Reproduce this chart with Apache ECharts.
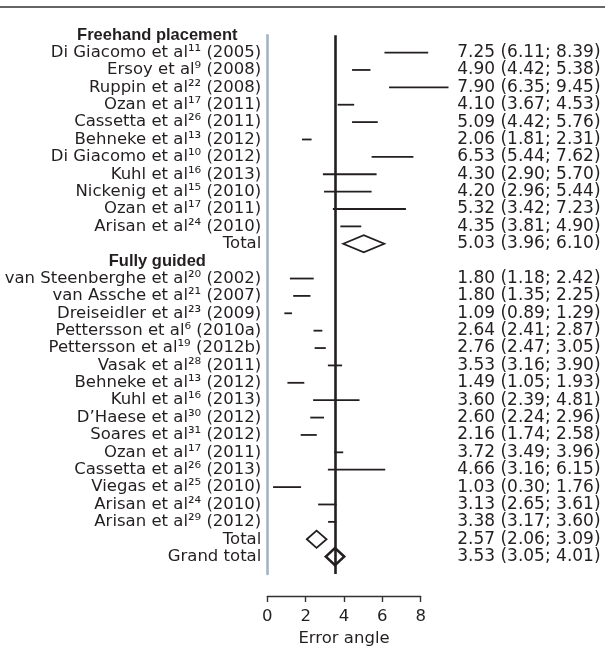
<!DOCTYPE html>
<html>
<head>
<meta charset="utf-8">
<script src="https://cdn.jsdelivr.net/npm/echarts@6/dist/echarts.min.js"></script>
<style>
  html, body { margin: 0; padding: 0; background: #ffffff; }
  #chart { width: 605px; height: 652px; }
</style>
</head>
<body>
<div id="chart"></div>
<script>
// Forest plot: error angle by guidance protocol

const freehandHeader = 'Freehand placement';
const freehandStudies = [
  'Di Giacomo et al¹¹ (2005)', 'Ersoy et al⁹ (2008)', 'Ruppin et al²² (2008)',
  'Ozan et al¹⁷ (2011)', 'Cassetta et al²⁶ (2011)', 'Behneke et al¹³ (2012)',
  'Di Giacomo et al¹⁰ (2012)', 'Kuhl et al¹⁶ (2013)', 'Nickenig et al¹⁵ (2010)',
  'Ozan et al¹⁷ (2011)', 'Arisan et al²⁴ (2010)'
];
const freehandEst  = [7.25, 4.90, 7.90, 4.10, 5.09, 2.06, 6.53, 4.30, 4.20, 5.32, 4.35];
const freehandLow  = [6.11, 4.42, 6.35, 3.67, 4.42, 1.81, 5.44, 2.90, 2.96, 3.42, 3.81];
const freehandHigh = [8.39, 5.38, 9.45, 4.53, 5.76, 2.31, 7.62, 5.70, 5.44, 7.23, 4.90];
const freehandTotal = [5.03, 3.96, 6.10];

const guidedHeader = 'Fully guided';
const guidedStudies = [
  'van Steenberghe et al²⁰ (2002)', 'van Assche et al²¹ (2007)', 'Dreiseidler et al²³ (2009)',
  'Pettersson et al⁶ (2010a)', 'Pettersson et al¹⁹ (2012b)', 'Vasak et al²⁸ (2011)',
  'Behneke et al¹³ (2012)', 'Kuhl et al¹⁶ (2013)', 'D’Haese et al³⁰ (2012)',
  'Soares et al³¹ (2012)', 'Ozan et al¹⁷ (2011)', 'Cassetta et al²⁶ (2013)',
  'Viegas et al²⁵ (2010)', 'Arisan et al²⁴ (2010)', 'Arisan et al²⁹ (2012)'
];
const guidedEst  = [1.80, 1.80, 1.09, 2.64, 2.76, 3.53, 1.49, 3.60, 2.60, 2.16, 3.72, 4.66, 1.03, 3.13, 3.38];
const guidedLow  = [1.18, 1.35, 0.89, 2.41, 2.47, 3.16, 1.05, 2.39, 2.24, 1.74, 3.49, 3.16, 0.30, 2.65, 3.17];
const guidedHigh = [2.42, 2.25, 1.29, 2.87, 3.05, 3.90, 1.93, 4.81, 2.96, 2.58, 3.96, 6.15, 1.76, 3.61, 3.60];
const guidedTotal = [2.57, 2.06, 3.09];

const grandTotal = [3.53, 3.05, 4.01];

const xTicks = { min: 0, max: 8, step: 2 };
const xTitle = 'Error angle';

// ---- assemble rows (kind: 0 study, 1 subgroup total, 2 grand total, -1 header)
const rows = [];
function addGroup(header, names, est, low, high, total) {
  rows.push({ label: header, kind: -1 });
  names.forEach((n, i) => rows.push({ label: n, kind: 0, est: est[i], lo: low[i], hi: high[i] }));
  rows.push({ label: 'Total', kind: 1, est: total[0], lo: total[1], hi: total[2] });
}
addGroup(freehandHeader, freehandStudies, freehandEst, freehandLow, freehandHigh, freehandTotal);
addGroup(guidedHeader, guidedStudies, guidedEst, guidedLow, guidedHigh, guidedTotal);
rows.push({ label: 'Grand total', kind: 2, est: grandTotal[0], lo: grandTotal[1], hi: grandTotal[2] });

const fmt = v => v.toFixed(2);
const valueText = r => r.kind < 0 ? '' : `${fmt(r.est)} (${fmt(r.lo)}; ${fmt(r.hi)})`;

// one extra empty slot below the last row so the axis runs past "Grand total"
const rowKeys = rows.map((r, i) => String(i)).concat(['pad']);

const plotData = [];
rows.forEach((r, i) => {
  if (r.kind >= 0) plotData.push([i, r.est, r.lo, r.hi, r.kind]);
});

const FONT = 'DejaVu Sans';
const HEAD_FONT = 'Liberation Sans';
const TXT = '#231f20';

const chart = echarts.init(document.getElementById('chart'), null, { renderer: 'canvas' });

chart.setOption({
  animation: false,
  backgroundColor: '#ffffff',
  textStyle: { fontFamily: FONT },
  grid: { left: 267.3, right: 184.3, top: 35.2, bottom: 74.3, containLabel: false },
  xAxis: {
    type: 'value',
    min: xTicks.min,
    max: xTicks.max,
    interval: xTicks.step,
    offset: 22,
    splitLine: { show: false },
    axisLine: { show: true, lineStyle: { color: '#333', width: 1.4 } },
    axisTick: { show: true, length: 6, lineStyle: { color: '#333', width: 1.4 } },
    axisLabel: { margin: 12, fontSize: 16.5, color: TXT, fontFamily: FONT },
    name: xTitle,
    nameLocation: 'middle',
    nameGap: 34,
    nameTextStyle: { fontSize: 16.5, color: TXT, fontFamily: FONT }
  },
  yAxis: [
    {
      type: 'category',
      inverse: true,
      boundaryGap: false,
      data: rowKeys,
      axisLine: { show: true, lineStyle: { color: '#a2b4c6', width: 2.6 } },
      axisTick: { show: false },
      splitLine: { show: false },
      axisLabel: {
        interval: 0,
        margin: 6,
        fontSize: 16.5,
        color: TXT,
        fontFamily: FONT,
        formatter: (v, i) => {
          const r = rows[i];
          if (!r) return '';
          return r.kind < 0 ? `{h|${r.label}}` : r.label;
        },
        rich: {
          h: { fontWeight: 'bold', fontSize: 16.5, fontFamily: HEAD_FONT, color: TXT, width: 208, align: 'center' }
        }
      }
    },
    {
      type: 'category',
      inverse: true,
      boundaryGap: false,
      position: 'right',
      data: rowKeys,
      axisLine: { show: false },
      axisTick: { show: false },
      splitLine: { show: false },
      axisLabel: {
        interval: 0,
        margin: 36.5,
        fontSize: 17,
        color: TXT,
        fontFamily: FONT,
        formatter: (v, i) => rows[i] ? valueText(rows[i]) : ''
      }
    }
  ],
  graphic: [
    {
      type: 'line',
      shape: { x1: 0, y1: 7, x2: 605, y2: 7 },
      style: { stroke: '#333', lineWidth: 1.5 },
      silent: true
    }
  ],
  series: [
    {
      type: 'custom',
      xAxisIndex: 0,
      yAxisIndex: 0,
      clip: false,
      data: plotData,
      encode: { x: [1, 2, 3], y: 0 },
      renderItem: (params, api) => {
        const row = api.value(0);
        const est = api.value(1), lo = api.value(2), hi = api.value(3);
        const kind = api.value(4);
        const pL = api.coord([lo, row]);
        const pE = api.coord([est, row]);
        const pH = api.coord([hi, row]);
        if (kind === 0) {
          return {
            type: 'line',
            shape: { x1: pL[0], y1: pL[1], x2: pH[0], y2: pH[1] },
            style: { stroke: '#231f20', lineWidth: 1.8 }
          };
        }
        const h = 8.6;
        return {
          type: 'polygon',
          shape: { points: [[pL[0], pL[1]], [pE[0], pE[1] - h], [pH[0], pH[1]], [pE[0], pE[1] + h]] },
          style: { fill: 'transparent', stroke: '#231f20', lineWidth: kind === 2 ? 2.6 : 1.8 }
        };
      },
      markLine: {
        silent: true,
        symbol: 'none',
        label: { show: false },
        lineStyle: { color: '#231f20', width: 2.6, type: 'solid' },
        data: [{ xAxis: grandTotal[0] }]
      }
    }
  ]
});
</script>
</body>
</html>
